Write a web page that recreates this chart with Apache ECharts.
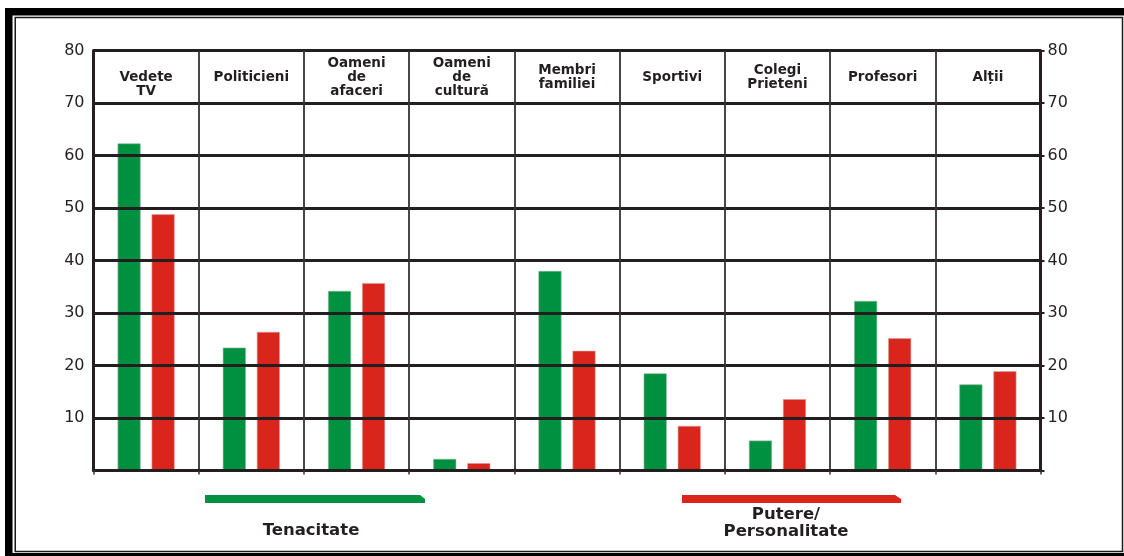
<!DOCTYPE html>
<html>
<head>
<meta charset="utf-8">
<script src="https://cdn.jsdelivr.net/npm/echarts@6/dist/echarts.min.js"></script>
<style>
  html, body { margin: 0; padding: 0; background: #ffffff; }
  #chart { width: 1124px; height: 556px; }
</style>
</head>
<body>
<div id="chart"></div>
<script>
// Categories (header row of the table-style chart)
const categories = [
  'Vedete\nTV', 'Politicieni', 'Oameni\nde\nafaceri', 'Oameni\nde\ncultură',
  'Membri\nfamiliei', 'Sportivi', 'Colegi\nPrieteni', 'Profesori', 'Alții'
];
// Green series: Tenacitate
const tenacitate = [62.3, 23.4, 34.2, 2.2, 38.0, 18.5, 5.7, 32.3, 16.4];
// Red series: Putere/Personalitate
const putere = [48.8, 26.4, 35.7, 1.4, 22.8, 8.5, 13.6, 25.2, 18.9];
// Value axis ticks
const yMin = 0, yMax = 80, yStep = 10;

const INK = '#231f20';
const GREEN = '#009140';
const RED = '#da251d';

const chart = echarts.init(document.getElementById('chart'), null, { renderer: 'canvas' });

// "Vedete TV" sits one line lower in its header cell
const headerLabels = categories.map(function (c, i) {
  return i === 0 ? '\n' + c : c;
});

const yLabel = {
  fontFamily: 'DejaVu Sans',
  fontSize: 16,
  color: INK,
  formatter: function (v) { return v === 0 ? '' : String(v); }
};

chart.setOption({
  animation: false,
  backgroundColor: '#ffffff',
  grid: { left: 93.5, right: 83.5, top: 50.5, bottom: 85.5, containLabel: false },
  xAxis: [
    {
      type: 'category',
      data: categories,
      position: 'bottom',
      boundaryGap: true,
      z: 5,
      axisLine: { show: true, lineStyle: { color: INK, width: 3 } },
      axisTick: { show: true, length: 4, lineStyle: { color: '#333', width: 1.5 } },
      axisLabel: { show: false },
      splitLine: { show: true, lineStyle: { color: '#333', width: 1.8 } }
    },
    {
      type: 'category',
      data: headerLabels,
      position: 'top',
      boundaryGap: true,
      axisLine: { show: false },
      axisTick: { show: false },
      splitLine: { show: false },
      axisLabel: {
        show: true,
        inside: true,
        interval: 0,
        margin: 26.5,
        verticalAlign: 'middle',
        align: 'center',
        fontFamily: 'DejaVu Sans',
        fontWeight: 'bold',
        fontSize: 13.5,
        lineHeight: 14,
        color: INK
      }
    }
  ],
  yAxis: [
    {
      type: 'value',
      position: 'left',
      min: yMin, max: yMax, interval: yStep,
      z: 5,
      axisLine: { show: true, lineStyle: { color: INK, width: 3 } },
      axisTick: { show: false },
      axisLabel: Object.assign({ margin: 9 }, yLabel),
      splitLine: { show: true, lineStyle: { color: INK, width: 2.8 } }
    },
    {
      type: 'value',
      position: 'right',
      min: yMin, max: yMax, interval: yStep,
      z: 5,
      axisLine: { show: true, lineStyle: { color: INK, width: 3 } },
      axisTick: { show: true, length: 4, inside: false, lineStyle: { color: INK, width: 2 } },
      axisLabel: Object.assign({ margin: 7 }, yLabel),
      splitLine: { show: false }
    }
  ],
  series: [
    {
      name: 'Tenacitate',
      type: 'bar',
      xAxisIndex: 0,
      yAxisIndex: 0,
      data: tenacitate,
      barWidth: 23,
      barGap: '48%',
      itemStyle: { color: GREEN, borderColor: '#8fb39c', borderWidth: 0.6 }
    },
    {
      name: 'Putere/Personalitate',
      type: 'bar',
      xAxisIndex: 0,
      yAxisIndex: 0,
      data: putere,
      barWidth: 23,
      barGap: '48%',
      itemStyle: { color: RED, borderColor: '#d9a09c', borderWidth: 0.6 }
    }
  ],
  graphic: [
    // double frame around the figure
    {
      type: 'rect', silent: true, z: 100,
      shape: { x: 8.75, y: 11.75, width: 1130, height: 545 },
      style: { fill: 'none', stroke: '#000', lineWidth: 7.5 }
    },
    {
      type: 'rect', silent: true, z: 100,
      shape: { x: 15.25, y: 17.5, width: 1107.25, height: 534 },
      style: { fill: 'none', stroke: '#1a1a1a', lineWidth: 1.5 }
    },
    // group markers under the axis
    {
      type: 'polygon', silent: true, z: 100,
      shape: { points: [[205, 495], [420, 495], [425, 499], [425, 503], [205, 503]] },
      style: { fill: GREEN }
    },
    {
      type: 'polygon', silent: true, z: 100,
      shape: { points: [[682, 495], [895, 495], [901, 499], [901, 503], [682, 503]] },
      style: { fill: RED }
    },
    {
      type: 'text', silent: true, z: 100,
      x: 311, y: 531,
      style: {
        text: 'Tenacitate', align: 'center', verticalAlign: 'middle',
        fontFamily: 'DejaVu Sans', fontWeight: 'bold', fontSize: 16.5, fill: INK
      }
    },
    {
      type: 'text', silent: true, z: 100,
      x: 786, y: 523.5,
      style: {
        text: 'Putere/\nPersonalitate', align: 'center', verticalAlign: 'middle',
        fontFamily: 'DejaVu Sans', fontWeight: 'bold', fontSize: 16.5, lineHeight: 17, fill: INK
      }
    }
  ]
});
</script>
</body>
</html>
